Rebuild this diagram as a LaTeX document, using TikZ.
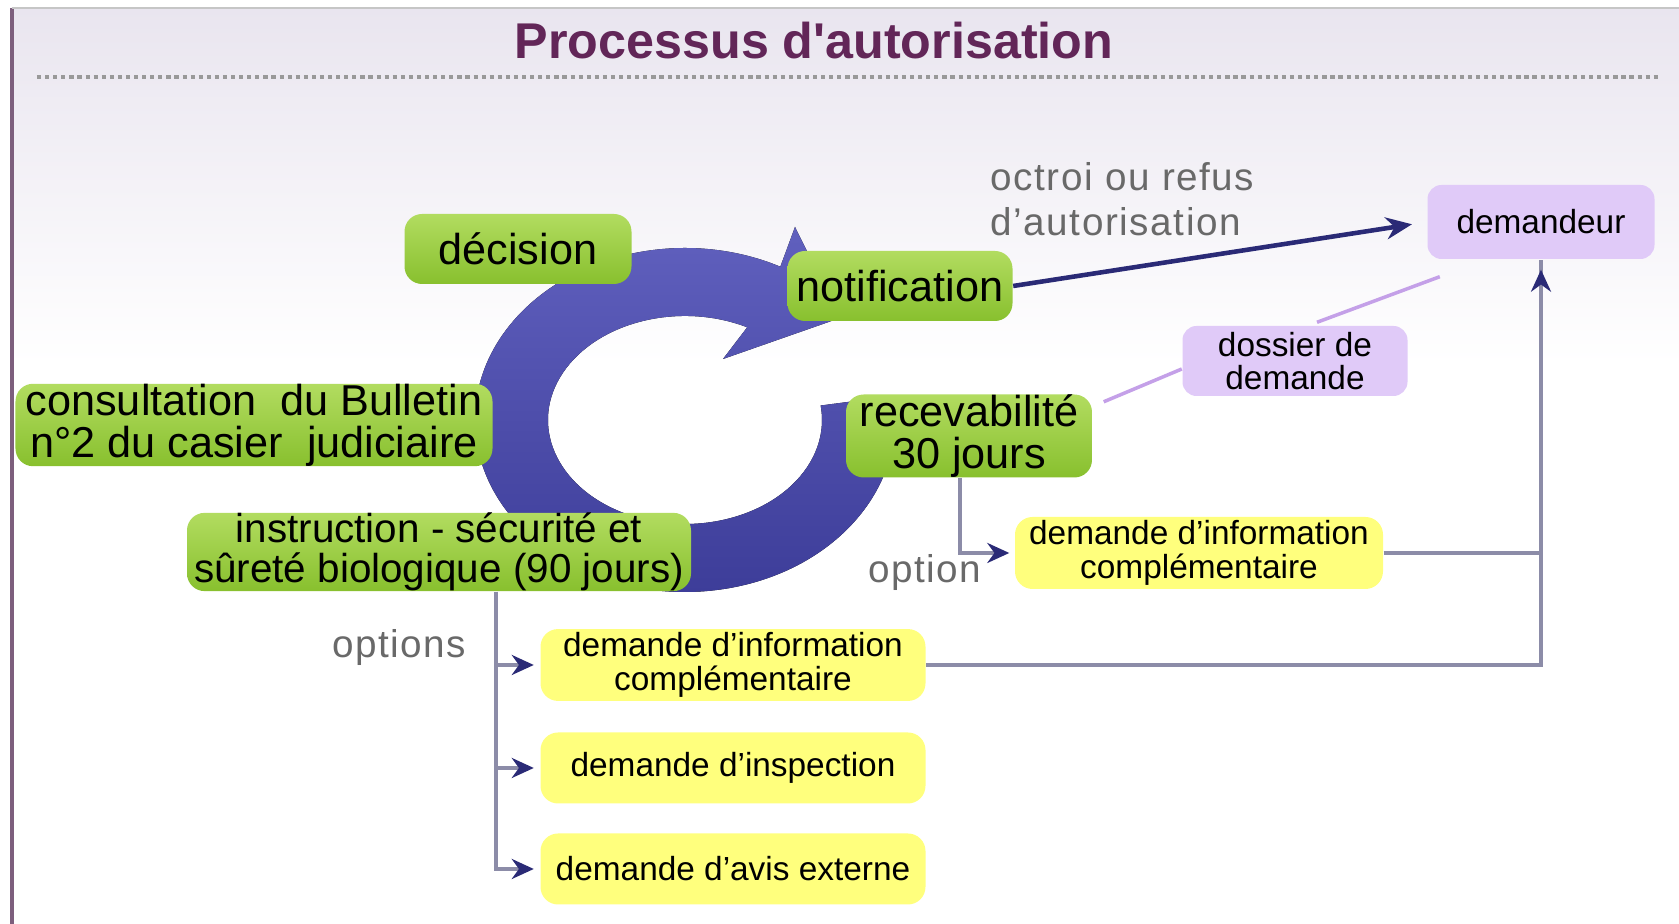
\documentclass[tikz,border=0pt]{standalone}
\usepackage{fontspec}
\setmainfont{Liberation Sans}
\usetikzlibrary{shapes.geometric, arrows.meta, positioning}

\definecolor{titlepurple}{RGB}{98,38,88}
\definecolor{bglilac}{RGB}{233,229,239}
\definecolor{framepurple}{RGB}{125,95,125}
\definecolor{greentop}{RGB}{178,220,96}
\definecolor{greenbot}{RGB}{136,192,46}
\definecolor{lemon}{RGB}{255,255,125}
\definecolor{lilac}{RGB}{224,202,248}
\definecolor{lilacline}{RGB}{196,160,232}
\definecolor{ringlight}{RGB}{96,96,190}
\definecolor{ringdark}{RGB}{60,60,152}
\definecolor{navy}{RGB}{42,42,118}
\definecolor{linegray}{RGB}{140,140,168}
\definecolor{labelgray}{RGB}{105,105,105}

\tikzstyle{greenbox} = [rectangle, rounded corners=5pt, minimum height=0.7cm, align=center, inner xsep=1pt, inner ysep=0pt, top color=greentop, bottom color=greenbot, font=\fontsize{12.3}{12}\selectfont]
\tikzstyle{yellowbox} = [rectangle, rounded corners=5pt, minimum width=3.85cm, minimum height=0.71cm, align=center, inner sep=1pt, fill=lemon, font=\fontsize{9.5}{9.6}\selectfont]
\tikzstyle{lilacbox} = [rectangle, rounded corners=4pt, minimum width=2.25cm, minimum height=0.7cm, align=center, inner sep=1pt, fill=lilac, font=\fontsize{9.5}{9.6}\selectfont]
\tikzstyle{graytext} = [text=labelgray, align=left, inner sep=0pt, font=\fontsize{11}{12.8}\selectfont\addfontfeature{LetterSpace=4}]
\tikzstyle{optarrow} = [line width=1pt, draw=linegray, -{Stealth[color=navy, length=2.2mm, width=2mm]}]
\tikzstyle{optline} = [line width=1pt, draw=linegray]
\tikzstyle{sendarrow} = [line width=1.3pt, draw=navy, -{Stealth[length=2.6mm, width=2.2mm]}]
\tikzstyle{fileline} = [line width=1pt, draw=lilacline]

\begin{document}
\begin{tikzpicture}

    \useasboundingbox (0,0) rectangle (16.79,9.24);

    % background and frame
    \fill[white] (0,0) rectangle (16.79,9.24);
    \shade[top color=bglilac, bottom color=white] (0.12,5.6) rectangle (16.79,9.16);
    \draw[framepurple, line width=1.2pt] (0.12,0) -- (0.12,9.16);
    \draw[gray!45, line width=0.8pt] (0.12,9.16) -- (16.79,9.16);

    \node (title) at (8.14,8.83) [text=titlepurple, font=\fontsize{14.3}{16}\selectfont\bfseries] {Processus d\textquotesingle autorisation};
    \draw[gray!80, line width=1pt, dash pattern=on 1.2pt off 1.1pt] (0.37,8.47) -- (16.60,8.47);

    % cycle arrow
    \coordinate (ringc) at (6.85,5.04);
    \fill[top color=ringlight, bottom color=ringdark]
        ([shift={(8:2.10 and 1.72)}]ringc) arc[start angle=8, end angle=-297, x radius=2.10, y radius=1.72]
        -- (7.95,6.97) -- (8.40,6.06) -- (7.23,5.65)
        -- ([shift={(-297:1.37 and 1.04)}]ringc) arc[start angle=-297, end angle=8, x radius=1.37, y radius=1.04]
        -- cycle;

    \node (decision) at (5.18,6.75) [greenbox, minimum width=2.27cm] {décision};
    \node (notif) [greenbox, minimum width=2.25cm, right of=decision, xshift=2.82cm, yshift=-0.37cm] {notification};
    \node (consult) at (2.54,4.99) [greenbox, minimum width=4.77cm, minimum height=0.75cm] {consultation\ \ du Bulletin\\n°2 du casier\ \ judiciaire};
    \node (recev) at (9.69,4.88) [greenbox, minimum width=2.46cm] {recevabilité\\30 jours};
    \node (instr) at (4.39,3.72) [greenbox, minimum width=5.04cm, minimum height=0.73cm, font=\fontsize{11.5}{11.4}\selectfont] {instruction - sécurité et\\sûreté biologique (90 jours)};

    \node (demandeur) at (15.41,7.02) [lilacbox, minimum width=2.27cm, minimum height=0.74cm] {demandeur};
    \node (dossier) at (12.95,5.63) [lilacbox] {dossier de\\demande};

    \node (infoR) at (11.99,3.71) [yellowbox, minimum width=3.68cm, minimum height=0.72cm] {demande d'information\\complémentaire};
    \node (infoL) at (7.33,2.59) [yellowbox] {demande d'information\\complémentaire};
    \node (inspect) [yellowbox, below of=infoL, yshift=-0.03cm] {demande d'inspection};
    \node (avis) [yellowbox, below of=inspect, yshift=-0.01cm] {demande d'avis externe};

    \node (octroi) at (9.90,7.25) [graytext, anchor=west] {octroi ou refus\\d'autorisation};
    \node (option) at (9.25,3.51) [graytext] {option};
    \node (options) at (3.99,2.76) [graytext] {options};

    \draw[sendarrow, shorten >=1.5mm] (notif.east) -- (demandeur.west);
    \draw[fileline] ([xshift=2.2mm, yshift=0.3mm]dossier.north) -- ([xshift=1.3mm, yshift=-1.7mm]demandeur.south west);
    \draw[fileline] ([yshift=-0.8mm]dossier.west) -- ([xshift=1.1mm, yshift=-0.8mm]recev.north east);

    \draw[optarrow, shorten >=0.5mm] ([xshift=-0.9mm]recev.south) |- (infoR.west);
    \draw[optline] (infoR.east) -| (demandeur.south);
    \draw[optarrow, shorten >=1mm] (infoL.east) -| (demandeur.south);

    \foreach \opt in {infoL, inspect, avis}
        \draw[optarrow, shorten >=0.6mm] ([xshift=5.7mm]instr.south) |- (\opt.west);

\end{tikzpicture}
\end{document}
